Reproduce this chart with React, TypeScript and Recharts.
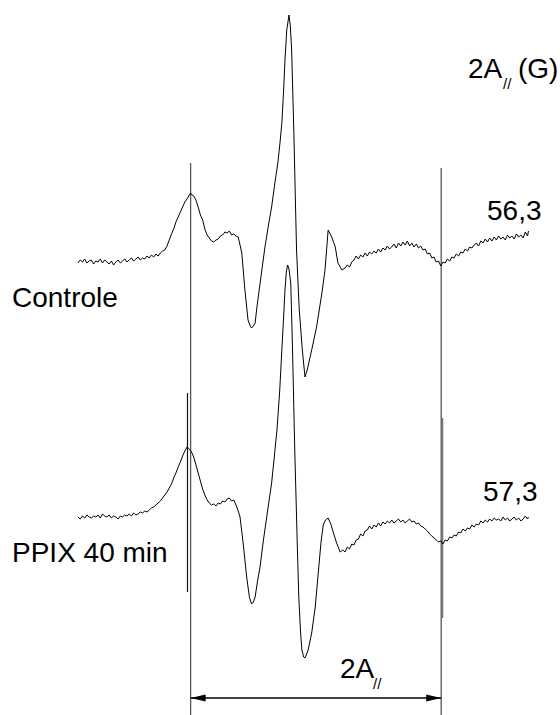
import { LineChart, Line, XAxis, YAxis, ReferenceLine } from "recharts";

// EPR first-derivative spectra: [field offset (G), amplitude (a.u.)]
const controle: [number, number][] = [
  [0, -1], [0.5, 2], [1, 0], [1.5, 3], [2, -1], [2.5, 1], [3, 2], [3.5, -2], [4, 1], [4.5, 0],
  [5, 3], [5.5, -1], [6, 2], [6.5, 0], [7, -2], [7.5, 1], [8, -3], [8.5, 0], [9, 2], [9.5, -1],
  [10, 1], [10.5, 3], [11, 0], [11.5, 2], [12, 4], [12.5, 1], [13, 3], [13.5, 5], [14, 2], [14.5, 4],
  [15, 3], [15.5, 6], [16, 4], [16.5, 7], [17, 5], [17.5, 8], [18, 6], [18.5, 9], [19, 11], [19.5, 12],
  [20, 16], [20.5, 22], [21, 28], [21.5, 33], [22, 40], [22.5, 45], [23, 50], [23.5, 55], [24, 60],
  [24.5, 63], [25, 67], [25.3, 69], [25.6, 67], [26, 66], [26.5, 62], [27, 55], [27.5, 47], [28, 42],
  [28.5, 33], [29, 27], [29.5, 24], [30, 21], [30.5, 20], [31, 22], [31.5, 23], [32, 26], [32.5, 27],
  [33, 30], [33.5, 29], [34, 31], [34.5, 27], [35, 28], [35.5, 26], [36, 25], [36.8, 9], [37.5, -28],
  [38.2, -58], [38.7, -64], [39, -66], [39.4, -64], [39.8, -61], [40.2, -45], [41.1, -15], [42, 15],
  [42.8, 37], [43.5, 55], [44.2, 78], [44.9, 99], [45.4, 120], [45.8, 139], [46.2, 172], [46.5, 202],
  [46.9, 232], [47.4, 247], [47.7, 236], [48, 212], [48.5, 129], [49.1, 12], [49.7, -47], [50.4, -88],
  [51, -115], [51.5, -108], [52.5, -88], [53.6, -65], [54.8, -31], [55.5, -8], [56.2, 32], [57, 25],
  [57.8, 15], [58.4, -1], [59.3, -8],
  [60, -6], [60.5, -3], [61, -5], [61.5, 0], [62, 2], [62.5, 6], [63, 3], [63.5, 7], [64, 5], [64.5, 9],
  [65, 6], [65.5, 10], [66, 8], [66.5, 11], [67, 9], [67.5, 13], [68, 10], [68.5, 14], [69, 12], [69.5, 16],
  [70, 13], [70.5, 15], [71, 18], [71.5, 14], [72, 19], [72.5, 16], [73, 20], [73.5, 17], [74, 21], [74.5, 16],
  [75, 19], [75.5, 15], [76, 18], [76.5, 14], [77, 16], [77.5, 12], [78, 13], [78.5, 8], [79, 9], [79.5, 4],
  [80, 5], [80.5, 0], [81, 1], [81.5, -4], [82, 0], [82.5, -1], [83, 3], [83.5, 1], [84, 5], [84.5, 4],
  [85, 8], [85.5, 6], [86, 10], [86.5, 9], [87, 13], [87.5, 11], [88, 15], [88.5, 14], [89, 17], [89.5, 19],
  [90, 16], [90.5, 21], [91, 19], [91.5, 23], [92, 20], [92.5, 24], [93, 21], [93.5, 25], [94, 22], [94.5, 26],
  [95, 23], [95.5, 25], [96, 22], [96.5, 27], [97, 24], [97.5, 26], [98, 23], [98.5, 28], [99, 25], [99.5, 27],
  [100, 24], [100.5, 30], [101, 26], [101.2, 31],
];

const ppix: [number, number][] = [
  [0, 0], [0.5, -2], [1, 1], [1.5, -1], [2, 2], [2.5, 0], [3, -1], [3.5, 1], [4, 0], [4.5, 2],
  [5, -1], [5.5, 3], [6, 1], [6.5, 0], [7, 2], [7.5, -1], [8, 1], [8.5, 0], [9, -2], [9.5, 1],
  [10, 0], [10.5, 2], [11, 1], [11.5, 3], [12, 1], [12.5, 4], [13, 2], [13.5, 3], [14, 5], [14.5, 4],
  [15, 6], [15.5, 5], [16, 7], [16.5, 9], [17, 10], [17.5, 12], [18, 14], [18.5, 16], [19, 19], [19.5, 22],
  [20, 25], [20.5, 29], [21, 33], [21.5, 39], [22, 44], [22.5, 50], [23, 55], [23.5, 61], [24, 66],
  [24.5, 70], [25, 68], [25.5, 65], [26, 60], [26.5, 52], [27, 44], [27.5, 36], [28, 28], [28.5, 22],
  [29, 17], [29.5, 14], [30, 12], [30.5, 13], [31, 11], [31.5, 14], [32, 13], [32.5, 16], [33, 15],
  [33.5, 18], [34, 19], [34.5, 16], [35, 17], [35.5, 12], [36, 6], [36.4, 0], [37.1, -26], [37.9, -60],
  [38.5, -80], [39, -87], [39.4, -85], [39.8, -80], [40.3, -65], [40.9, -50], [41.6, -25], [42.4, 0],
  [43.5, 34], [44.1, 60], [44.7, 87], [45.3, 125], [45.8, 167], [46.2, 200], [46.5, 227], [46.8, 245],
  [47.1, 252], [47.4, 248], [47.8, 234], [48.2, 167], [48.7, 67], [49.3, -33], [49.6, -80], [50, -115],
  [50.3, -133], [50.7, -140], [51, -141], [51.3, -138], [51.7, -133], [52.5, -116], [53.3, -90],
  [54, -55], [54.6, -25], [55.1, -8], [55.6, -3], [56.2, -1], [56.8, -7], [57.4, -16], [58.1, -26],
  [58.9, -35],
  [59.5, -33], [60, -35], [60.5, -30], [61, -32], [61.5, -27], [62, -28], [62.5, -23], [63, -22], [63.5, -17],
  [64, -19], [64.5, -14], [65, -13], [65.5, -9], [66, -12], [66.5, -8], [67, -10], [67.5, -6], [68, -9],
  [68.5, -5], [69, -7], [69.5, -4], [70, -6], [70.5, -3], [71, -6], [71.5, -4], [72, -2], [72.5, -5],
  [73, -3], [73.5, -6], [74, -4], [74.5, -2], [75, -5], [75.5, -4], [76, -7], [76.5, -6], [77, -9],
  [77.5, -10], [78, -12], [78.5, -14], [79, -17], [79.5, -19], [80, -21], [80.5, -23], [81, -25],
  [81.5, -24], [82, -27], [82.5, -23], [83, -24], [83.5, -20], [84, -21], [84.5, -18], [85, -19],
  [85.5, -15], [86, -16], [86.5, -12], [87, -14], [87.5, -11], [88, -12], [88.5, -8], [89, -10],
  [89.5, -7], [90, -8], [90.5, -4], [91, -6], [91.5, -3], [92, -5], [92.5, -2], [93, -4], [93.5, -1],
  [94, -3], [94.5, -2], [95, -4], [95.5, 0], [96, -3], [96.5, -1], [97, -4], [97.5, -2], [98, 0],
  [98.5, -3], [99, -1], [99.5, -4], [100, -2], [100.5, 1], [101, -2], [101.2, 0],
];

// outer hyperfine extrema (low-field line) and 2A// splitting in G
const controleLow = 25.3;
const ppixLow = 24.6;
const controleSplit = 56.3;
const ppixSplit = 57.3;

const sampleNames = ["Controle", "PPIX 40 min"];

const toRows = (pts: [number, number][]) => pts.map(([field, amp]) => ({ field, amp }));

const FONT = "'Liberation Sans', Arial, Helvetica, sans-serif";

function DoubleArrow(props: any) {
  const { x1, y1, x2, y2 } = props;
  const len = 15;
  const half = 3.5;
  return (
    <g>
      <line x1={x1} y1={y1} x2={x2} y2={y2} stroke="#000" strokeWidth={1.3} />
      <polygon points={`${x1},${y1} ${x1 + len},${y1 - half} ${x1 + len},${y1 + half}`} fill="#000" />
      <polygon points={`${x2},${y2} ${x2 - len},${y2 - half} ${x2 - len},${y2 + half}`} fill="#000" />
    </g>
  );
}

export default function App() {
  const ctlHigh = controleLow + controleSplit;
  const ppHigh = ppixLow + ppixSplit;
  return (
    <div style={{ position: "absolute", left: 0, top: 0, width: 560, height: 715, background: "#fff" }}>
      <LineChart width={560} height={715} margin={{ top: 0, right: 28, bottom: 0, left: 78 }}>
        <XAxis type="number" dataKey="field" domain={[0, 102]} hide />
        <YAxis yAxisId="ctl" type="number" domain={[-453, 262]} hide />
        <YAxis yAxisId="pp" type="number" domain={[-198, 517]} hide />

        <ReferenceLine yAxisId="ctl" ifOverflow="visible" stroke="#555" strokeWidth={1.3}
          segment={[{ x: controleLow, y: 99 }, { x: controleLow, y: -453 }]} />
        <ReferenceLine yAxisId="ctl" ifOverflow="visible" stroke="#555" strokeWidth={1.3}
          segment={[{ x: ctlHigh, y: 94 }, { x: ctlHigh, y: -453 }]} />
        <ReferenceLine yAxisId="pp" ifOverflow="visible" stroke="#111" strokeWidth={1.2}
          segment={[{ x: ppixLow, y: 124 }, { x: ppixLow, y: -75 }]} />
        <ReferenceLine yAxisId="pp" ifOverflow="visible" stroke="#777" strokeWidth={1.5}
          segment={[{ x: ppHigh, y: 99 }, { x: ppHigh, y: -101 }]} />
        <ReferenceLine yAxisId="ctl" ifOverflow="visible" shape={DoubleArrow}
          segment={[{ x: controleLow, y: -436 }, { x: ctlHigh, y: -436 }]} />

        <Line yAxisId="ctl" data={toRows(controle)} dataKey="amp" type="linear" stroke="#000"
          strokeWidth={1} dot={false} isAnimationActive={false} />
        <Line yAxisId="pp" data={toRows(ppix)} dataKey="amp" type="linear" stroke="#000"
          strokeWidth={1} dot={false} isAnimationActive={false} />
      </LineChart>

      <svg width={560} height={715} style={{ position: "absolute", left: 0, top: 0, pointerEvents: "none" }}
        fontFamily={FONT} fill="#000">
        <text y={78} fontSize={28}>
          <tspan x={468}>2A</tspan>
          <tspan x={503} dy={11} fontSize={15}>//</tspan>
          <tspan x={518} dy={-11}>(G)</tspan>
        </text>
        <text x={487} y={220} fontSize={28}>{controleSplit.toFixed(1).replace(".", ",")}</text>
        <text x={483} y={501} fontSize={28}>{ppixSplit.toFixed(1).replace(".", ",")}</text>
        <text x={12} y={307} fontSize={28}>{sampleNames[0]}</text>
        <text x={12} y={562} fontSize={28}>{sampleNames[1]}</text>
        <text y={678} fontSize={28}>
          <tspan x={340}>2A</tspan>
          <tspan x={373} dy={11} fontSize={15}>//</tspan>
        </text>
      </svg>
    </div>
  );
}
